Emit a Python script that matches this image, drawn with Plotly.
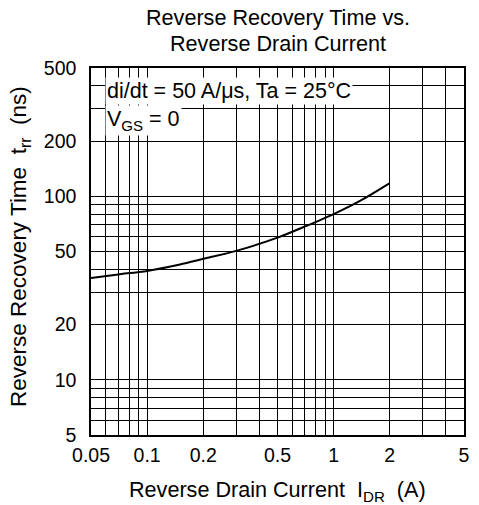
import plotly.graph_objects as go

# Data
current_A = [0.05, 0.07, 0.1, 0.15, 0.2, 0.3, 0.5, 0.7, 1.0, 1.4, 2.0]
trr_ns = [35.9, 37.5, 39.2, 42.5, 45.6, 50.4, 59.5, 68.4, 80.0, 95.0, 118.0]

x_grid = [0.05, 0.06, 0.07, 0.08, 0.09, 0.1, 0.2, 0.3, 0.4, 0.5, 0.6, 0.7, 0.8, 0.9,
          1, 2, 3, 4, 5]
x_labels = {0.05: "0.05", 0.1: "0.1", 0.2: "0.2", 0.5: "0.5", 1: "1", 2: "2", 5: "5"}
y_grid = [5, 6, 7, 8, 9, 10, 20, 30, 40, 50, 60, 70, 80, 90, 100, 200, 300, 400, 500]
y_labels = {5: "5", 10: "10", 20: "20", 50: "50", 100: "100", 200: "200", 500: "500"}

FONT = "Liberation Sans, Arial, sans-serif"
TICK_SIZE = 19.5
TEXT_SIZE = 21.6
YTITLE_SIZE = 22.5
NOTE_SIZE = 21.5

# figure is drawn 8px in from the window corner (page body margin)
PLOT_H = 367.0
PLOT_W = 379.0


def py(ref_y):
    """paper y from a reference-window pixel row"""
    return (435.0 - ref_y) / PLOT_H


def px(ref_x):
    return (ref_x - 90.7) / PLOT_W


fig = go.Figure()
fig.add_trace(go.Scatter(
    x=current_A, y=trr_ns, mode="lines",
    line=dict(color="black", width=2, shape="spline", smoothing=0.8),
    hoverinfo="skip", showlegend=False,
))

axis_common = dict(
    type="log",
    showgrid=True, gridcolor="black", gridwidth=1,
    showline=True, linecolor="black", linewidth=1.5, mirror=True,
    ticks="", zeroline=False,
    tickfont=dict(size=TICK_SIZE),
)

fig.update_layout(
    width=471, height=497,
    margin=dict(l=83, r=9, t=60, b=70),
    paper_bgcolor="white", plot_bgcolor="white",
    font=dict(family=FONT, size=TEXT_SIZE, color="black"),
    xaxis=dict(
        range=[-1.30103, 0.69897],
        tickvals=x_grid, ticktext=[x_labels.get(v, "") for v in x_grid],
        ticklabelstandoff=2,
        **axis_common,
    ),
    yaxis=dict(
        range=[0.69897, 2.69897],
        tickvals=y_grid, ticktext=[y_labels.get(v, "") for v in y_grid],
        ticklabelstandoff=9,
        **axis_common,
    ),
    annotations=[
        dict(text="Reverse Recovery Time vs.", xref="paper", yref="paper",
             x=0.5, y=py(18), xanchor="center", yanchor="middle",
             showarrow=False, font=dict(size=TEXT_SIZE)),
        dict(text="Reverse Drain Current", xref="paper", yref="paper",
             x=0.5, y=py(44), xanchor="center", yanchor="middle",
             showarrow=False, font=dict(size=TEXT_SIZE)),
        dict(text="Reverse Drain Current  I<sub>DR</sub>  (A)", xref="paper", yref="paper",
             x=0.5, y=py(475), xanchor="center", yanchor="top",
             showarrow=False, font=dict(size=TEXT_SIZE)),
        dict(text="Reverse Recovery Time  t<sub>rr</sub>  (ns)", xref="paper", yref="paper",
             x=px(18.5), y=py(246), xanchor="center", yanchor="middle", textangle=-90,
             showarrow=False, font=dict(size=YTITLE_SIZE)),
        dict(text="di/dt = 50 A/\u03bcs, Ta = 25\u00b0C", xref="paper", yref="paper",
             x=px(105), y=py(91), xanchor="left", yanchor="middle",
             showarrow=False, bgcolor="white", borderpad=1, font=dict(size=NOTE_SIZE)),
        dict(text="V<sub>GS</sub> = 0", xref="paper", yref="paper",
             x=px(105), y=py(105), xanchor="left", yanchor="top",
             showarrow=False, bgcolor="white", borderpad=1, font=dict(size=NOTE_SIZE)),
    ],
)

fig.write_html("out.html")
